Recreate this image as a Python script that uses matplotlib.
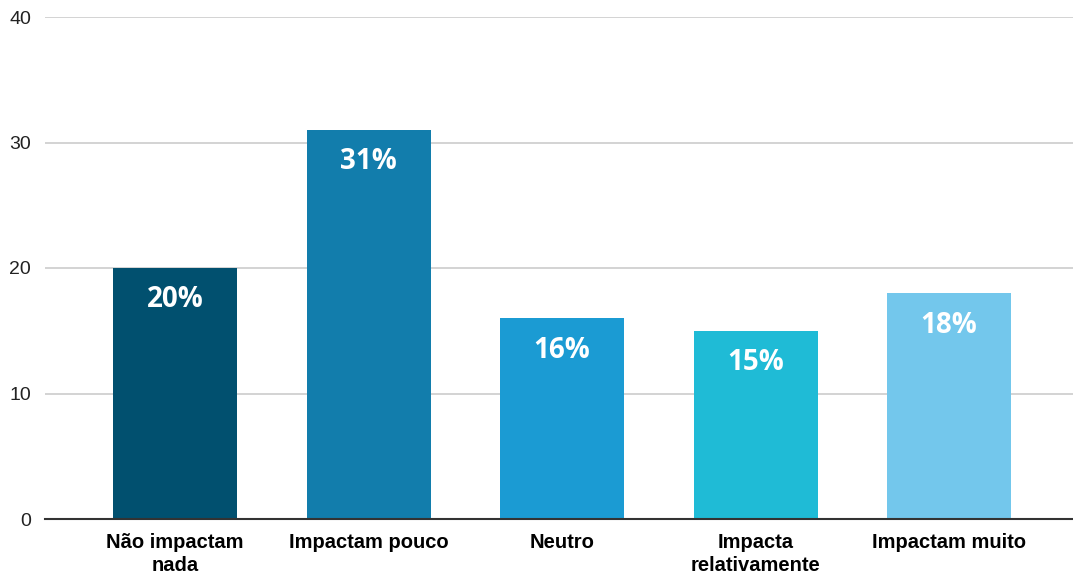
import numpy as np
import matplotlib.pyplot as plt

# respostas por categoria (%)
categorias = ['Não impactam\nnada', 'Impactam pouco', 'Neutro', 'Impacta\nrelativamente', 'Impactam muito']
valores = [20, 31, 16, 15, 18]
cores = ['#01506f', '#127dac', '#1b9bd3', '#1fbbd6', '#73c7ec']

fig = plt.figure(figsize=(10.73, 5.74), dpi=100)
ax = fig.add_axes([45 / 1073, 55 / 574, 1 - 45 / 1073, 502 / 574])

x = np.arange(len(categorias))
barras = ax.bar(x, valores, width=0.64, color=cores, zorder=3)

# rotulo de percentagem dentro de cada barra
for b, v in zip(barras, valores):
    ax.annotate(f'{v}%', (b.get_x() + b.get_width() / 2, v), xytext=(0, -23),
                textcoords='offset points', ha='center', va='center',
                color='white', fontsize=20, fontweight='bold', family='Open Sans', zorder=4)

ax.set_ylim(0, 40)
ax.set_xlim(-0.672, 4.64)
ax.set_yticks([0, 10, 20, 30, 40])
ax.set_xticks(x)
ax.set_xticklabels(categorias, fontsize=14.5, fontweight='bold', family='Liberation Sans', linespacing=1.25)
ax.tick_params(axis='y', labelsize=14, length=0, pad=10, labelcolor='#222222')
ax.tick_params(axis='x', length=0, pad=10)
for lbl in ax.get_yticklabels():
    lbl.set_family('Liberation Sans')

ax.grid(axis='y', color='#cccccc', linewidth=1.2, zorder=0)
for s in ['top', 'right', 'left']:
    ax.spines[s].set_visible(False)
ax.spines['bottom'].set_color('#333333')
ax.spines['bottom'].set_linewidth(1.5)
ax.spines['bottom'].set_zorder(5)

fig.savefig('out.png', dpi=100)
